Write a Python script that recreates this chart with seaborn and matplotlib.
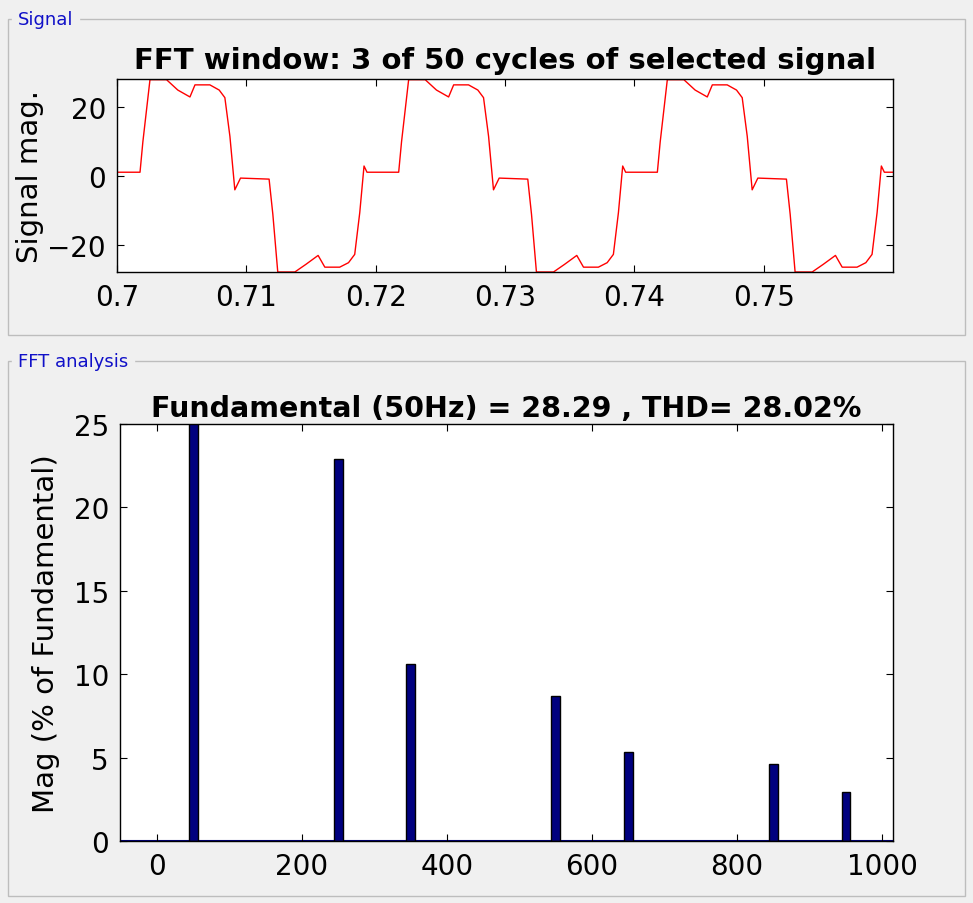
import numpy as np
import pandas as pd
import seaborn as sns
import matplotlib.pyplot as plt
from matplotlib.patches import Rectangle

# one cycle of the signal: (ms from 0.70 s, value)
cycle_ms = [0.0, 1.78, 2.0, 2.55, 3.83, 4.7, 5.64, 6.03, 7.18, 7.9, 8.34, 8.73, 9.11, 9.55, 11.76,
            12.05, 12.43, 13.75, 14.6, 15.55, 16.07, 17.22, 17.9, 18.38, 18.77, 19.10, 19.33, 20.0]
cycle_val = [1.2, 1.2, 10.0, 28.0, 28.0, 25.0, 23.0, 26.5, 26.5, 25.0, 22.8, 11.6, -3.9, -0.5, -0.8,
             -11.0, -27.7, -27.7, -25.5, -22.9, -26.3, -26.3, -25.0, -22.6, -10.5, 3.0, 1.2, 1.2]
n_cycles = 3

harm_freq = [50, 250, 350, 550, 650, 850, 950]
harm_mag = [100.0, 22.9, 10.6, 8.7, 5.35, 4.6, 2.95]

t, v = [], []
for k in range(n_cycles):
    t += [0.70 + (k * 20 + m) / 1000 for m in cycle_ms]
    v += cycle_val
sig = pd.DataFrame({"t": t, "v": v})
fft = pd.DataFrame({"f": harm_freq, "mag": harm_mag})

sns.set_style("white")
plt.rcParams['font.family'] = ['DejaVu Sans']
plt.rcParams['text.color'] = 'black'
plt.rcParams['axes.labelcolor'] = 'black'
plt.rcParams['xtick.color'] = 'black'
plt.rcParams['ytick.color'] = 'black'
W, H = 973, 904
fig = plt.figure(figsize=(W / 100, H / 100), dpi=100, facecolor="#f0f0f0")

def box(x0, y0, x1, y1, label):
    fig.add_artist(Rectangle((x0 / W, 1 - y1 / H), (x1 - x0) / W, (y1 - y0) / H,
                             transform=fig.transFigure, fill=False, ec="#bdbdbd", lw=1))
    fig.text((x0 + 10) / W, 1 - y0 / H, label, color="#1010c8", fontsize=13,
             va="center", ha="left", backgroundcolor="#f0f0f0")

box(8, 20, 965, 336, "Signal")
box(8, 362, 965, 897, "FFT analysis")

def axes_px(x0, y0, x1, y1):
    return fig.add_axes([x0 / W, 1 - y1 / H, (x1 - x0) / W, (y1 - y0) / H])

ax1 = axes_px(117, 80, 893, 273)
sns.lineplot(data=sig, x="t", y="v", ax=ax1, color="red", lw=1)
ax1.set_xlim(0.70, 0.76)
ax1.set_ylim(-27.7, 28.2)
ax1.set_xticks([0.70, 0.71, 0.72, 0.73, 0.74, 0.75])
ax1.set_xticklabels(["0.7", "0.71", "0.72", "0.73", "0.74", "0.75"])
ax1.set_yticks([-20, 0, 20])
ax1.set_xlabel("")
ax1.set_ylabel("Signal mag.", fontsize=21, labelpad=2)
ax1.set_title("FFT window: 3 of 50 cycles of selected signal", fontsize=21,
              fontweight="bold", pad=8)

ax2 = axes_px(120, 425, 893, 842)
sns.barplot(data=fft, x="f", y="mag", ax=ax2, native_scale=True, width=0.12,
            color="#00007f", edgecolor="black", linewidth=1, saturation=1)
ax2.axhline(0, color="#00007f", lw=1.5, zorder=0)
ax2.set_xlim(-51, 1015)
ax2.set_ylim(0, 25)
ax2.set_xticks(range(0, 1001, 200))
ax2.set_yticks(range(0, 26, 5))
ax2.set_xlabel("")
ax2.set_ylabel("Mag (% of Fundamental)", fontsize=21, labelpad=10)
ax2.set_title("Fundamental (50Hz) = 28.29 , THD= 28.02%", fontsize=20.5,
              fontweight="bold", pad=6)

for ax in (ax1, ax2):
    ax.set_facecolor("white")
    for s in ax.spines.values():
        s.set_color("black")
        s.set_linewidth(1)
    ax.tick_params(labelsize=20, direction="in", length=5, top=True, right=True,
                   bottom=True, left=True, labeltop=False, labelright=False, pad=8)

fig.savefig("out.png", dpi=100, facecolor=fig.get_facecolor())
